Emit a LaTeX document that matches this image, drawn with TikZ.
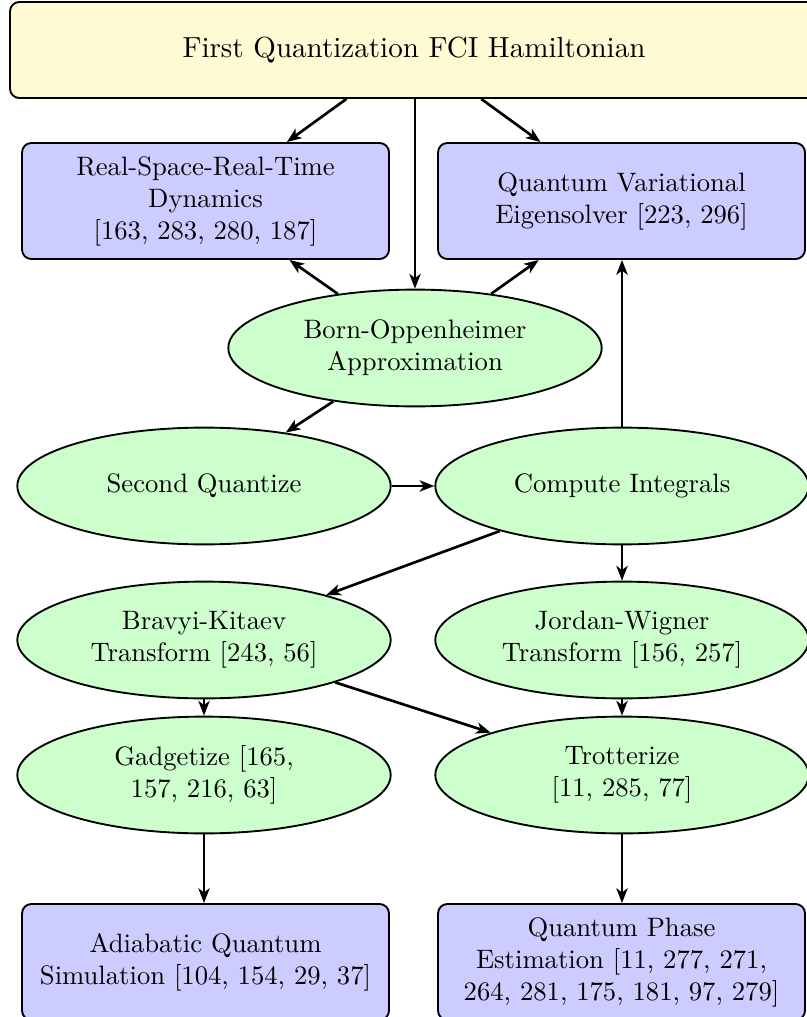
\documentclass[tikz,border=0pt]{standalone}
\usetikzlibrary{shapes.geometric,arrows.meta}
\definecolor{topfill}{RGB}{255,250,212}
\definecolor{boxfill}{RGB}{204,204,255}
\definecolor{ellfill}{RGB}{204,255,204}
\begin{document}
\begin{tikzpicture}[x=0.375pt,y=-0.375pt,
  topbox/.style={draw,line width=0.7pt,rounded corners=3.5pt,fill=topfill,minimum width=303pt,minimum height=36pt,align=center,inner sep=0pt,font=\fontsize{10.9}{13.6}\selectfont},
  bluebox/.style={draw,line width=0.7pt,rounded corners=3.5pt,fill=boxfill,minimum width=137.6pt,minimum height=43.5pt,align=center,inner sep=0pt},
  ell/.style={draw,line width=0.7pt,ellipse,fill=ellfill,minimum width=140pt,minimum height=43.8pt,align=center,inner sep=0pt},
  arr/.style={line width=1pt,-{Stealth[length=5.5pt,width=4.2pt,inset=1.5pt]}}]
\clip (0,0) rectangle (807,1017);
\node[topbox] (top) at (414,50) {First Quantization FCI Hamiltonian};
\node[bluebox] (rsrt) at (205.5,201) {Real-Space-Real-Time\\Dynamics\\{}[163, 283, 280, 187]};
\node[bluebox] (qve) at (621.5,201) {Quantum Variational\\Eigensolver [223, 296]};
\node[ell] (bo) at (415,348) {Born-Oppenheimer\\Approximation};
\node[ell] (sq) at (204,486) {Second Quantize};
\node[ell] (ci) at (622,486) {Compute Integrals};
\node[ell] (bk) at (204,640) {Bravyi-Kitaev\\Transform [243, 56]};
\node[ell] (jw) at (622,640) {Jordan-Wigner\\Transform [156, 257]};
\node[ell] (gad) at (204,775) {Gadgetize [165,\\157, 216, 63]};
\node[ell] (trot) at (622,775) {Trotterize\\{}[11, 285, 77]};
\node[bluebox] (aqs) at (205.5,962) {Adiabatic Quantum\\Simulation [104, 154, 29, 37]};
\node[bluebox] (qpe) at (621.5,962) {Quantum Phase\\Estimation [11, 277, 271,\\264, 281, 175, 181, 97, 279]};
\draw[arr] (top) -- (rsrt);
\draw[arr] (top.south -| bo.north) -- (bo.north);
\draw[arr] (top) -- (qve);
\draw[arr] (bo) -- (rsrt);
\draw[arr] (bo) -- (qve);
\draw[arr] (bo) -- (sq);
\draw[arr] (sq) -- (ci);
\draw[arr] (ci.north) -- (qve.south -| ci.north);
\draw[arr] (ci) -- (bk);
\draw[arr] (ci) -- (jw);
\draw[arr] (bk) -- (gad);
\draw[arr] (bk) -- (trot);
\draw[arr] (jw) -- (trot);
\draw[arr] (gad) -- (aqs.north -| gad.south);
\draw[arr] (trot) -- (qpe.north -| trot.south);
\end{tikzpicture}
\end{document}
